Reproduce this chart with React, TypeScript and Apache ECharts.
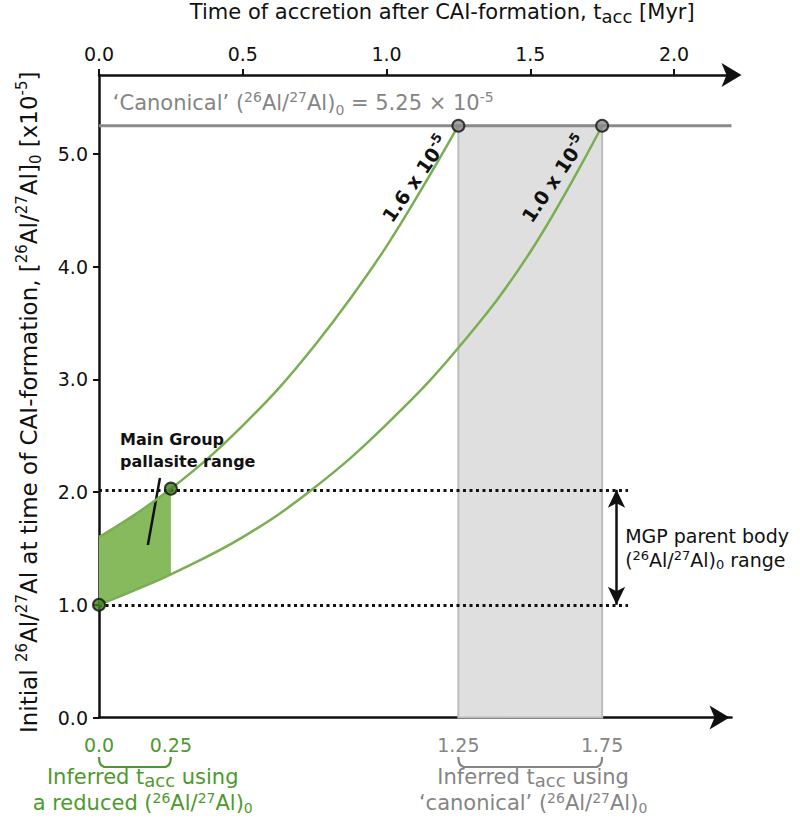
import React, { useEffect, useRef } from 'react';
import * as echarts from 'echarts';

// ---------------- data ----------------
// curve for initial ratio 1.6 x 10^-5 (t in Myr, ratio in 10^-5)
const upperT = [0, 0.125, 0.25, 0.375, 0.5, 0.625, 0.75, 0.875, 1.0, 1.125, 1.25];
const upperV = [1.6, 1.8, 2.03, 2.29, 2.59, 2.92, 3.3, 3.72, 4.18, 4.7, 5.25];
// curve for initial ratio 1.0 x 10^-5
const lowerT = [0, 0.125, 0.25, 0.5, 0.75, 1.0, 1.25, 1.5, 1.75];
const lowerV = [1.0, 1.13, 1.27, 1.6, 2.04, 2.6, 3.28, 4.13, 5.25];
// Main Group pallasite range (filled band)
const bandT = [0, 0.0625, 0.125, 0.1875, 0.25];
const bandUpper = [1.6, 1.7, 1.8, 1.91, 2.03];
const bandLower = [1.0, 1.065, 1.13, 1.2, 1.27];
// canonical ratio and inferred accretion times
const canonicalRatio = 5.25;
const canonicalT = [1.25, 1.75];
const reducedPoints = [[0, 1.0], [0.25, 2.03]];
const mgpRange = [1.0, 2.02];
const mgpLineEnd = 1.84;
const mgpArrowT = 1.8;
const leader = [[0.212, 2.125], [0.17, 1.53]];
const topTicks = [0, 0.5, 1.0, 1.5, 2.0];
const yTicks = [0, 1, 2, 3, 4, 5];
const bottomLabels = [0, 0.25, 1.25, 1.75];
const xMax = 2.2;
const yMax = 5.7;

const FONT = "'DejaVu Sans', sans-serif";
const BLACK = '#111111';
const GREEN_LINE = '#7aae52';
const GREEN_FILL = '#86ba5c';
const GREEN_DOT = '#3f7e1e';
const GREEN_TEXT = '#4d9a2c';
const GRAY = '#8a8a8a';
const GRAY_TEXT = '#858585';

function rich(size: number, color: string, weight: string = 'normal', extra: number = 6) {
  const s = Math.round(size * 0.66);
  const base = { fontFamily: FONT, fontWeight: weight, fill: color, color };
  return {
    n: { ...base, fontSize: size, lineHeight: size + extra },
    sup: { ...base, fontSize: s, lineHeight: s, verticalAlign: 'top' },
    sub: { ...base, fontSize: s, lineHeight: s, verticalAlign: 'bottom' },
    sub2: { ...base, fontSize: Math.round(size * 0.85), lineHeight: Math.round(size * 0.85), verticalAlign: 'bottom' },
  };
}

const ratioText = '{n|(}{sup|26}{n|Al/}{sup|27}{n|Al)}{sub|0}';

function buildOption(): any {
  const zip = (a: number[], b: number[]) => a.map((t, i) => [t, b[i]]);
  return {
    animation: false,
    textStyle: { fontFamily: FONT },
    grid: { left: 99, right: 68.5, top: 75, bottom: 108.5, outerBoundsMode: 'none', containLabel: false },
    xAxis: [
      {
        type: 'value',
        position: 'top',
        min: 0,
        max: xMax,
        name: '{n|Time of accretion after CAI-formation, t}{sub2|acc}{n| [Myr]}',
        nameLocation: 'middle',
        nameGap: 50,
        nameTextStyle: { rich: rich(21, BLACK), padding: [0, 0, 0, 54] },
        axisLine: {
          onZero: false,
          lineStyle: { color: BLACK, width: 2.5 },
          symbol: ['none', 'arrow'],
          symbolSize: [18, 20],
          symbolOffset: [0, 10],
        },
        axisTick: { show: true, inside: false, length: 6, customValues: topTicks, lineStyle: { color: BLACK, width: 2 } },
        axisLabel: {
          customValues: topTicks,
          formatter: (v: number) => v.toFixed(1),
          fontSize: 19,
          color: BLACK,
          fontFamily: FONT,
          margin: 12,
        },
        splitLine: { show: false },
      },
      {
        type: 'value',
        position: 'bottom',
        min: 0,
        max: xMax,
        axisLine: {
          onZero: false,
          lineStyle: { color: BLACK, width: 2.5 },
          symbol: ['none', 'arrow'],
          symbolSize: [18, 20],
          symbolOffset: [0, -2],
        },
        axisTick: { show: false },
        axisLabel: {
          customValues: bottomLabels,
          formatter: (v: number) => (v === 0 ? '0.0' : String(v)),
          color: (v: any) => (Number(v) < 1 ? GREEN_TEXT : GRAY_TEXT),
          fontSize: 19,
          fontFamily: FONT,
          margin: 18,
        },
        splitLine: { show: false },
      },
    ],
    yAxis: {
      type: 'value',
      min: 0,
      max: yMax,
      name:
        '{n|Initial }{sup|26}{n|Al/}{sup|27}{n|Al at time of CAI-formation, [}{sup|26}{n|Al/}{sup|27}{n|Al]}{sub|0}{n| [x10}{sup|-5}{n|]}',
      nameLocation: 'middle',
      nameRotate: 90,
      nameGap: 56,
      nameTextStyle: { rich: rich(23, BLACK), padding: [0, 12, 0, 0] },
      axisLine: { show: true, onZero: false, lineStyle: { color: BLACK, width: 2.5 } },
      axisTick: { show: true, length: 6, customValues: yTicks, lineStyle: { color: BLACK, width: 2 } },
      axisLabel: {
        customValues: yTicks,
        formatter: (v: number) => v.toFixed(1),
        fontSize: 19,
        color: BLACK,
        fontFamily: FONT,
        margin: 11,
      },
      splitLine: { show: false },
    },
    series: [
      {
        type: 'line',
        name: 'canonical',
        data: [[0, canonicalRatio], [xMax, canonicalRatio]],
        symbol: 'none',
        lineStyle: { color: GRAY, width: 3 },
        z: 2,
        markArea: {
          silent: true,
          itemStyle: { color: '#dfdfdf', borderColor: '#bdbdbd', borderWidth: 2 },
          data: [[{ coord: [canonicalT[0], 0] }, { coord: [canonicalT[1], canonicalRatio] }]],
        },
      },
      {
        type: 'custom',
        name: 'band',
        data: [[0, 1]],
        z: 3,
        silent: true,
        renderItem: (params: any, api: any) => {
          const pts: number[][] = [];
          bandT.forEach((t, i) => pts.push(api.coord([t, bandUpper[i]])));
          for (let i = bandT.length - 1; i >= 0; i--) pts.push(api.coord([bandT[i], bandLower[i]]));
          return { type: 'polygon', shape: { points: pts, smooth: 0 }, style: { fill: GREEN_FILL } };
        },
      },
      {
        type: 'line',
        name: 'dotted',
        data: [],
        z: 4,
        markLine: {
          silent: true,
          symbol: ['none', 'none'],
          label: { show: false },
          lineStyle: { color: BLACK, width: 3, type: [3, 3.5] },
          data: mgpRange.map((v) => [{ coord: [0, v] }, { coord: [mgpLineEnd, v] }]),
        },
      },
      {
        type: 'line',
        name: 'upper',
        data: zip(upperT, upperV),
        symbol: 'none',
        smooth: 0.4,
        lineStyle: { color: GREEN_LINE, width: 2.5 },
        z: 5,
      },
      {
        type: 'line',
        name: 'lower',
        data: zip(lowerT, lowerV),
        symbol: 'none',
        smooth: 0.4,
        lineStyle: { color: GREEN_LINE, width: 2.5 },
        z: 5,
      },
      {
        type: 'line',
        name: 'leader',
        data: [],
        z: 6,
        markLine: {
          silent: true,
          symbol: ['none', 'none'],
          label: { show: false },
          lineStyle: { color: BLACK, width: 2.5, type: 'solid' },
          data: [[{ coord: leader[0] }, { coord: leader[1] }]],
        },
      },
      {
        type: 'line',
        name: 'mgpArrow',
        data: [],
        z: 6,
        markLine: {
          silent: true,
          symbol: ['arrow', 'arrow'],
          symbolSize: [13, 18],
          label: { show: false },
          lineStyle: { color: BLACK, width: 2.5, type: 'solid' },
          data: [[{ coord: [mgpArrowT, mgpRange[1]] }, { coord: [mgpArrowT, mgpRange[0]] }]],
        },
      },
      {
        type: 'scatter',
        name: 'reducedPts',
        data: reducedPoints,
        symbolSize: 12,
        itemStyle: { color: GREEN_DOT, borderColor: BLACK, borderWidth: 2 },
        z: 8,
      },
      {
        type: 'scatter',
        name: 'canonicalPts',
        data: canonicalT.map((t) => [t, canonicalRatio]),
        symbolSize: 12,
        itemStyle: { color: GRAY, borderColor: BLACK, borderWidth: 2 },
        z: 8,
      },
    ],
  };
}

function buildGraphics(chart: any): any[] {
  const P = (t: number, v: number) => chart.convertToPixel({ xAxisIndex: 0, yAxisIndex: 0 }, [t, v]);
  const g: any[] = [];
  const txt = (x: number, y: number, text: string, r: any, align = 'left', rotation = 0) => ({
    type: 'text',
    x,
    y,
    rotation,
    z: 100,
    style: { text, rich: r, align, verticalAlign: 'middle' },
  });

  // canonical label
  const c = P(0.048, 5.45);
  g.push(
    txt(c[0], c[1], '{n|\u2018Canonical\u2019 }' + ratioText + '{n| = 5.25 \u00d7 10}{sup|-5}', rich(21, GRAY_TEXT))
  );

  // curve labels
  const a1 = P(1.1, 4.78);
  g.push(txt(a1[0], a1[1], '{n|1.6 x 10}{sup|-5}', rich(19, BLACK, 'bold'), 'center', (55 * Math.PI) / 180));
  const a2 = P(1.583, 4.78);
  g.push(txt(a2[0], a2[1], '{n|1.0 x 10}{sup|-5}', rich(19, BLACK, 'bold'), 'center', (56 * Math.PI) / 180));

  // Main group label
  const m = P(0.073, 2.365);
  g.push({
    type: 'text',
    x: m[0],
    y: m[1],
    z: 100,
    style: {
      text: 'Main Group\npallasite range',
      font: `bold 16px ${FONT}`,
      fill: BLACK,
      lineHeight: 22,
      align: 'left',
      verticalAlign: 'middle',
    },
  });

  // MGP parent body label
  const mg = P(1.83, 1.5);
  g.push(txt(mg[0], mg[1] - 12, '{n|MGP parent body}', rich(19, BLACK, 'normal', 3)));
  g.push(txt(mg[0], mg[1] + 12, ratioText + '{n| range}', rich(19, BLACK, 'normal', 3)));

  // bottom brackets and texts
  const bracket = (t0: number, t1: number, color: string) => {
    const x0 = P(t0, 0)[0];
    const x1 = P(t1, 0)[0];
    const yt = 757;
    const yb = 767;
    return {
      type: 'polyline',
      z: 100,
      shape: {
        points: [
          [x0, yt],
          [x0 + 0.5, yb - 5],
          [x0 + 2, yb - 2],
          [x0 + 5, yb],
          [x1 - 5, yb],
          [x1 - 2, yb - 2],
          [x1 - 0.5, yb - 5],
          [x1, yt],
        ],
      },
      style: { stroke: color, lineWidth: 2.2, fill: null },
    };
  };
  g.push(bracket(0, 0.25, GREEN_TEXT));
  g.push(bracket(1.25, 1.75, GRAY_TEXT));

  const gx = P(0.152, 0)[0];
  const cx = P(1.51, 0)[0];
  const r1 = rich(21, GREEN_TEXT, 'normal', 3);
  const r2 = rich(21, GRAY_TEXT, 'normal', 3);
  g.push(txt(gx, 777, '{n|Inferred t}{sub2|acc}{n| using}', r1, 'center'));
  g.push(txt(gx, 803, '{n|a reduced }' + ratioText, r1, 'center'));
  g.push(txt(cx, 777, '{n|Inferred t}{sub2|acc}{n| using}', r2, 'center'));
  g.push(txt(cx, 803, '{n|\u2018canonical\u2019 }' + ratioText, r2, 'center'));
  return g;
}

export default function App() {
  const ref = useRef<HTMLDivElement>(null);
  useEffect(() => {
    document.body.style.margin = '0';
    const chart = echarts.init(ref.current as HTMLDivElement, null, { renderer: 'svg' });
    chart.setOption(buildOption());
    chart.setOption({ graphic: buildGraphics(chart) });
    return () => chart.dispose();
  }, []);
  return <div ref={ref} style={{ width: 800, height: 826 }} />;
}
